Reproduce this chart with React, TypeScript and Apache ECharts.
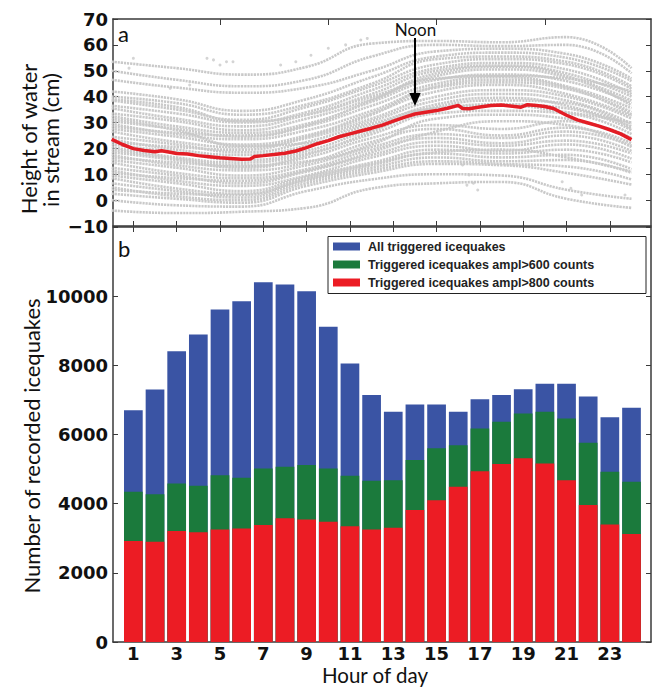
import React, { useEffect, useRef } from "react";
import * as echarts from "echarts";

// ---------- data ----------
const HOURS = [1, 2, 3, 4, 5, 6, 7, 8, 9, 10, 11, 12, 13, 14, 15, 16, 17, 18, 19, 20, 21, 22, 23, 24];
const ALL_TRIGGERED = [6700, 7300, 8410, 8890, 9615, 9855, 10405, 10340, 10145, 9115, 8050, 7140, 6660, 6870, 6870, 6660, 7020, 7140, 7310, 7470, 7470, 7100, 6500, 6770];
const AMPL_600 = [4345, 4270, 4585, 4520, 4825, 4750, 5020, 5070, 5115, 5020, 4810, 4660, 4680, 5260, 5600, 5690, 6175, 6370, 6610, 6660, 6465, 5760, 4920, 4635];
const AMPL_800 = [2920, 2900, 3210, 3170, 3255, 3285, 3380, 3575, 3545, 3480, 3350, 3255, 3305, 3815, 4100, 4490, 4940, 5145, 5310, 5165, 4680, 3960, 3400, 3120];
const SERIES_NAMES = ["All triggered icequakes", "Triggered icequakes ampl>600 counts", "Triggered icequakes ampl>800 counts"];

const ODD_HOUR_TICKS = [1, 3, 5, 7, 9, 11, 13, 15, 17, 19, 21, 23];
const TOP_MAJOR_TICKS = [5, 10, 15, 20];

// daily water-height curves (cm), read at these hours
const CURVE_HOURS = [0, 3, 6, 9, 12, 15, 18, 21, 24];
const DAY_CURVES = [
  [53.5, 51.0, 48.5, 51.5, 60.5, 61.5, 61.0, 63.0, 51.0],
  [50.0, 46.5, 44.0, 46.5, 55.5, 60.0, 59.5, 60.0, 49.0],
  [46.5, 43.5, 41.5, 43.5, 50.0, 57.5, 58.5, 56.5, 47.0],
  [42.0, 39.0, 34.5, 39.0, 47.5, 55.5, 57.0, 55.0, 46.0],
  [40.0, 37.5, 33.0, 37.0, 45.0, 54.5, 55.5, 53.5, 44.0],
  [39.0, 36.0, 30.5, 33.0, 40.0, 47.0, 48.0, 47.0, 42.0],
  [38.5, 35.0, 31.0, 36.0, 44.0, 52.5, 54.5, 52.5, 43.0],
  [36.5, 33.5, 30.0, 34.0, 42.5, 51.0, 53.0, 50.5, 41.0],
  [35.5, 31.5, 28.5, 33.0, 41.0, 50.0, 52.0, 49.0, 40.0],
  [33.5, 30.5, 27.0, 31.5, 39.0, 48.0, 50.5, 47.5, 38.5],
  [32.5, 28.5, 26.0, 29.5, 38.0, 46.5, 48.5, 46.0, 37.5],
  [31.5, 27.0, 21.0, 22.0, 29.5, 35.5, 36.5, 34.0, 30.0],
  [30.5, 27.5, 24.5, 28.5, 36.5, 45.0, 47.5, 44.0, 35.5],
  [29.5, 25.5, 23.5, 27.0, 34.5, 43.5, 45.5, 43.0, 34.0],
  [28.5, 26.0, 25.0, 29.0, 38.5, 49.0, 51.5, 48.0, 36.5],
  [27.5, 24.5, 21.5, 25.0, 33.5, 42.0, 44.5, 41.0, 32.5],
  [26.5, 22.5, 20.5, 24.0, 31.5, 40.0, 42.5, 40.0, 31.5],
  [24.5, 21.5, 18.5, 22.5, 30.5, 38.5, 41.0, 38.5, 29.5],
  [23.5, 19.5, 17.5, 21.0, 28.5, 37.0, 39.5, 36.5, 28.5],
  [22.5, 20.5, 19.5, 24.5, 33.0, 44.0, 46.5, 43.5, 33.0],
  [21.5, 18.5, 15.5, 19.0, 27.5, 35.0, 37.0, 35.5, 27.0],
  [20.5, 16.5, 14.5, 18.0, 25.5, 33.5, 34.5, 33.5, 25.5],
  [19.5, 16.0, 13.5, 15.0, 21.5, 31.5, 33.0, 31.5, 23.5],
  [18.5, 15.5, 12.5, 16.5, 24.0, 29.0, 27.5, 30.5, 24.0],
  [17.5, 13.5, 11.5, 14.5, 22.5, 27.5, 25.0, 28.0, 22.0],
  [16.5, 14.5, 13.0, 17.5, 26.5, 36.0, 38.5, 37.5, 27.5],
  [15.5, 12.5, 9.5, 13.5, 20.5, 25.5, 24.0, 26.5, 21.0],
  [14.5, 10.5, 8.5, 12.0, 19.5, 24.0, 22.0, 25.0, 19.0],
  [12.5, 9.5, 6.5, 11.0, 17.5, 22.5, 21.0, 23.0, 18.0],
  [11.5, 7.5, 5.5, 9.5, 16.5, 21.0, 19.0, 21.5, 16.0],
  [10.5, 8.5, 7.5, 11.5, 18.5, 26.5, 30.5, 29.0, 20.5],
  [9.5, 6.5, 3.5, 9.0, 14.5, 19.5, 18.0, 19.5, 14.5],
  [8.5, 4.5, 2.5, 8.0, 13.5, 18.0, 16.5, 17.5, 12.0],
  [6.5, 3.5, 1.0, 7.5, 12.5, 16.5, 15.0, 15.5, 10.5],
  [5.0, 1.5, 0.0, 6.5, 11.5, 15.0, 14.0, 13.0, 8.0],
  [4.0, 2.5, 2.0, 8.5, 14.0, 18.5, 19.5, 16.5, 11.0],
  [2.5, 0.5, -1.0, 5.5, 10.5, 14.0, 13.5, 10.5, 6.0],
  [0.0, -2.0, -2.5, 3.5, 8.0, 10.0, 9.5, 4.0, 0.5],
  [-4.0, -5.0, -4.5, -3.0, 4.5, 6.5, 7.0, 0.5, -3.0],
];
const STRAY_HOURS = [0.8, 1.0, 2.7, 3.6, 4.4, 4.7, 5.0, 5.3, 5.6, 7.8, 8.5, 9.2, 10.0, 10.8, 11.5, 11.8, 16.2, 16.4, 16.5, 16.7, 16.9, 20.8, 21.2, 21.7, 23.7];
const STRAY_LEVELS = [51.0, 54.8, 43.2, 44.5, 54.8, 54.2, 52.2, 53.5, 53.5, 52.2, 53.5, 56.0, 58.7, 60.0, 61.9, 62.5, 13.6, 5.8, 9.7, 6.5, 3.9, 7.1, 4.6, 2.0, 2.0];

// mean water height (red line)
const MEAN_HOURS = [0, 0.5, 1, 1.5, 2, 2.3, 2.7, 3, 3.5, 4, 4.5, 5, 5.5, 6, 6.4, 6.6, 7, 7.5, 8, 8.5, 9, 9.5, 10, 10.5, 11, 11.5, 12, 12.5, 13, 13.5, 14, 14.5, 15, 15.5, 16, 16.2, 16.5, 17, 17.5, 18, 18.5, 18.9, 19.2, 19.6, 20, 20.4, 21, 21.5, 22, 22.5, 23, 23.5, 24];
const MEAN_LEVEL = [23.5, 21.5, 19.9, 19.2, 18.7, 19.1, 18.5, 18.0, 17.8, 17.2, 16.8, 16.4, 16.1, 15.8, 15.9, 16.9, 17.2, 17.6, 18.1, 19.0, 20.3, 21.8, 23.0, 24.5, 25.6, 26.7, 27.8, 29.0, 30.5, 32.0, 33.3, 34.0, 34.6, 35.5, 36.6, 35.4, 35.3, 36.0, 36.6, 36.8, 36.3, 35.9, 36.9, 36.6, 36.2, 35.4, 32.8, 31.0, 29.8, 28.6, 27.2, 25.6, 23.4];

const COLORS = ["#3a54a4", "#1b7a3c", "#ec1c24"];

export default function App() {
  const ref = useRef<HTMLDivElement>(null);

  useEffect(() => {
    const chart = echarts.init(ref.current!, null, { renderer: "svg" });
    const X_MIN = 0.06;
    const X_MAX = 24.9;
    const tickFont = { fontFamily: "DejaVu Sans", fontWeight: "bold" as const, fontSize: 18, color: "#111" };
    const axisLine = { show: true, onZero: false, lineStyle: { color: "#3a3a3a", width: 1.5 } };
    const tickStyle = { color: "#3a3a3a", width: 1 };
    const nameFont = { fontFamily: "Lato", fontSize: 22, fill: "#111" };
    const minus = (v: number) => (v < 0 ? "\u2212" + Math.abs(v) : String(v));

    const grayCurves = DAY_CURVES.map((row) => ({
      type: "line",
      xAxisIndex: 0,
      yAxisIndex: 0,
      data: CURVE_HOURS.map((h, i) => [h, row[i]]),
      smooth: 0.5,
      showSymbol: false,
      silent: true,
      lineStyle: { color: "#c9c9c9", width: 2.6, type: [2.2, 0.9] },
      z: 1,
    }));

    const option: any = {
      animation: false,
      backgroundColor: "#fff",
      grid: [
        { left: 113, top: 19, width: 538, height: 207 },
        { left: 113, top: 227, width: 538, height: 415 },
      ],
      xAxis: [
        {
          gridIndex: 0, type: "value", min: X_MIN, max: X_MAX, position: "bottom",
          axisLine, axisTick: { show: true, inside: true, length: 5, customValues: ODD_HOUR_TICKS, lineStyle: tickStyle },
          axisLabel: { show: false }, splitLine: { show: false },
        },
        {
          gridIndex: 0, type: "value", min: X_MIN, max: X_MAX, position: "top",
          axisLine, axisTick: { show: true, inside: true, length: 6, customValues: TOP_MAJOR_TICKS, lineStyle: tickStyle },
          axisLabel: { show: false }, splitLine: { show: false },
        },
        {
          gridIndex: 1, type: "value", min: X_MIN, max: X_MAX, position: "bottom",
          axisLine, axisTick: { show: true, inside: true, length: 5, customValues: ODD_HOUR_TICKS, lineStyle: tickStyle },
          axisLabel: { show: true, customValues: ODD_HOUR_TICKS, margin: 2, lineHeight: 18, ...tickFont }, splitLine: { show: false },
        },
        {
          gridIndex: 1, type: "value", min: X_MIN, max: X_MAX, position: "top",
          axisLine, axisTick: { show: true, inside: true, length: 5, customValues: ODD_HOUR_TICKS, lineStyle: tickStyle },
          axisLabel: { show: false }, splitLine: { show: false },
        },
      ],
      yAxis: [
        {
          gridIndex: 0, type: "value", min: -10, max: 70, interval: 10, position: "left",
          axisLine, axisTick: { show: true, inside: true, length: 5, lineStyle: tickStyle },
          axisLabel: { ...tickFont, margin: 5, formatter: (v: number) => minus(v) }, splitLine: { show: false },
        },
        {
          gridIndex: 0, type: "value", min: -10, max: 70, interval: 10, position: "right",
          axisLine, axisTick: { show: true, inside: true, length: 5, lineStyle: tickStyle },
          axisLabel: { show: false }, splitLine: { show: false },
        },
        {
          gridIndex: 1, type: "value", min: 0, max: 12000, interval: 2000, position: "left",
          axisLine, axisTick: { show: true, inside: true, length: 5, lineStyle: tickStyle },
          axisLabel: { ...tickFont, margin: 5, formatter: (v: number) => (v >= 12000 ? "" : String(v)) }, splitLine: { show: false },
        },
        {
          gridIndex: 1, type: "value", min: 0, max: 12000, interval: 2000, position: "right",
          axisLine, axisTick: { show: true, inside: true, length: 5, lineStyle: tickStyle },
          axisLabel: { show: false }, splitLine: { show: false },
        },
      ],
      legend: {
        data: SERIES_NAMES,
        orient: "vertical",
        left: 333,
        top: 240,
        itemWidth: 27,
        itemHeight: 8,
        itemGap: 5,
        icon: "rect",
        padding: 0,
        selectedMode: false,
        z: 10,
        textStyle: { fontFamily: "Liberation Sans", fontWeight: "bold", fontSize: 12.5, color: "#222", lineHeight: 13, padding: [0, 0, 0, 3] },
      },
      graphic: [
        { type: "rect", z: 5, shape: { x: 328, y: 236.5, width: 318, height: 57 }, style: { fill: "#fff", stroke: "#222", lineWidth: 1 } },
        { type: "text", x: 28, y: 139, rotation: Math.PI / 2, style: { text: "Height of water", ...nameFont, align: "center", verticalAlign: "middle" } },
        { type: "text", x: 50, y: 140, rotation: Math.PI / 2, style: { text: "in stream (cm)", ...nameFont, align: "center", verticalAlign: "middle" } },
        { type: "text", x: 31, y: 446, rotation: Math.PI / 2, style: { text: "Number of recorded icequakes", ...nameFont, align: "center", verticalAlign: "middle" } },
        { type: "text", x: 375, y: 675, style: { text: "Hour of day", ...nameFont, fontSize: 20.5, align: "center", verticalAlign: "middle" } },
        { type: "text", x: 118, y: 33, style: { text: "a", ...nameFont, align: "left", verticalAlign: "middle" } },
        { type: "text", x: 118, y: 248, style: { text: "b", ...nameFont, align: "left", verticalAlign: "middle" } },
        { type: "text", x: 415.5, y: 29, z: 6, style: { text: "Noon", fontFamily: "Lato", fontSize: 17, fill: "#111", align: "center", verticalAlign: "middle" } },
        { type: "line", z: 6, shape: { x1: 415, y1: 38, x2: 415, y2: 95 }, style: { stroke: "#000", lineWidth: 2 } },
        { type: "polygon", z: 6, shape: { points: [[409.3, 93], [420.7, 93], [415, 106]] }, style: { fill: "#000" } },
      ],
      series: [
        ...grayCurves,
        {
          type: "scatter",
          xAxisIndex: 0,
          yAxisIndex: 0,
          data: STRAY_HOURS.map((h, i) => [h, STRAY_LEVELS[i]]),
          symbolSize: 3,
          silent: true,
          itemStyle: { color: "#c9c9c9" },
          z: 1,
        },
        {
          type: "line",
          xAxisIndex: 0,
          yAxisIndex: 0,
          data: MEAN_HOURS.map((h, i) => [h, MEAN_LEVEL[i]]),
          showSymbol: false,
          silent: true,
          lineStyle: { color: "#e31d25", width: 3.5 },
          z: 4,
        },
        ...[ALL_TRIGGERED, AMPL_600, AMPL_800].map((vals, k) => ({
          type: "bar",
          name: SERIES_NAMES[k],
          xAxisIndex: 2,
          yAxisIndex: 2,
          data: HOURS.map((h, i) => [h, vals[i]]),
          barWidth: 18.7,
          barGap: "-100%",
          itemStyle: { color: COLORS[k] },
          silent: true,
          z: 2,
        })),
      ],
    };
    chart.setOption(option);
    return () => chart.dispose();
  }, []);

  return <div ref={ref} style={{ position: "absolute", left: 0, top: 0, width: 653, height: 688 }} />;
}
